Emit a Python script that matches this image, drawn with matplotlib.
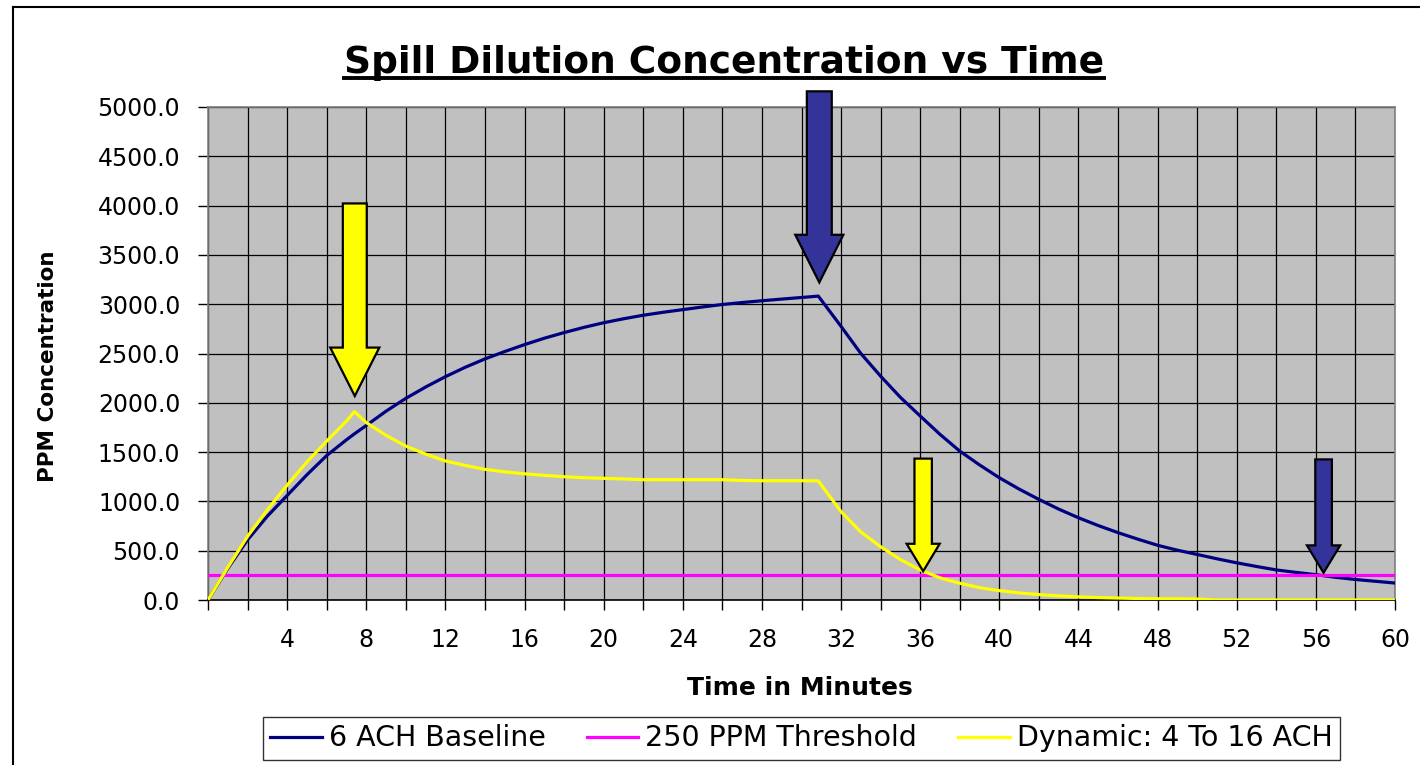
import matplotlib
matplotlib.use('Agg')
import matplotlib.pyplot as plt
from matplotlib.patches import FancyArrow
from matplotlib.lines import Line2D

plt.rcParams['font.family'] = ['DejaVu Sans']

# ---------------- data ----------------
time_min = [0, 1, 2, 3, 4, 5, 6, 7, 7.4, 8, 9, 10, 11, 12, 13, 14, 15, 16, 17, 18,
            19, 20, 21, 22, 23, 24, 25, 26, 27, 28, 29, 30, 30.85, 32, 33, 34, 35,
            36, 37, 38, 39, 40, 41, 42, 43, 44, 45, 46, 47, 48, 49, 50, 51, 52, 53,
            54, 55, 56, 57, 58, 59, 60]

baseline_6ach = [0, 320, 610, 850, 1060, 1270, 1465, 1625, 1685, 1770, 1915, 2045,
                 2160, 2265, 2360, 2445, 2520, 2590, 2655, 2712, 2765, 2812, 2852,
                 2888, 2918, 2945, 2972, 2997, 3017, 3035, 3052, 3068, 3082, 2775,
                 2500, 2270, 2055, 1866, 1680, 1510, 1370, 1240, 1125, 1020, 922,
                 834, 755, 683, 617, 555, 505, 462, 418, 377, 340, 305, 280, 257,
                 230, 208, 190, 172]

dynamic_4_16 = [0, 330, 645, 915, 1165, 1400, 1612, 1815, 1910, 1800, 1670, 1561,
                1480, 1410, 1365, 1325, 1300, 1280, 1264, 1250, 1240, 1234, 1228,
                1220, 1220, 1220, 1220, 1220, 1212, 1210, 1210, 1210, 1208, 895,
                690, 540, 410, 305, 225, 170, 125, 95, 72, 55, 42, 32, 25, 20, 15,
                12, 12, 10, 0, 0, 0, 0, 0, 0, 0, 0, 0, 0]

threshold_time = [0, 60]
threshold_ppm = [250, 250]

series_labels = ['6 ACH Baseline', '250 PPM Threshold', 'Dynamic: 4 To 16 ACH']

x_ticks = list(range(0, 61, 2))
x_tick_labels = ['', '', '4', '', '8', '', '12', '', '16', '', '20', '', '24', '',
                 '28', '', '32', '', '36', '', '40', '', '44', '', '48', '', '52',
                 '', '56', '', '60']
y_ticks = [0, 500, 1000, 1500, 2000, 2500, 3000, 3500, 4000, 4500, 5000]
y_tick_labels = ['0.0', '500.0', '1000.0', '1500.0', '2000.0', '2500.0', '3000.0',
                 '3500.0', '4000.0', '4500.0', '5000.0']

# arrow annotations: x position, top and tip (data units)
arrow_x = [7.42, 30.9, 36.15, 56.39]
arrow_top = [4022, 5159, 1434, 1426]
arrow_tip = [2069, 3221, 292, 276]

# ---------------- figure ----------------
W, H = 1420, 765
fig = plt.figure(figsize=(W / 100, H / 100), dpi=100)
fig.patch.set_facecolor('white')

ax_l, ax_r, ax_t, ax_b = 208, 1395, 107, 600
ax = fig.add_axes([ax_l / W, (H - ax_b) / H, (ax_r - ax_l) / W, (ax_b - ax_t) / H])
ax.set_facecolor('#C0C0C0')

ax.plot(time_min, baseline_6ach, color='#000080', lw=2.3, label=series_labels[0], zorder=3)
ax.plot(threshold_time, threshold_ppm, color='#FF00FF', lw=2.3, label=series_labels[1], zorder=3)
ax.plot(time_min, dynamic_4_16, color='#FFFF00', lw=2.3, label=series_labels[2], zorder=3)

ax.set_xlim(0, 60)
ax.set_ylim(0, 5000)
ax.set_xticks(x_ticks)
ax.set_xticklabels(x_tick_labels)
ax.set_yticks(y_ticks)
ax.set_yticklabels(y_tick_labels)
ax.grid(True, color='black', lw=0.9)
ax.set_axisbelow(True)

ax.tick_params(axis='both', direction='out', length=7, width=1, color='black',
               labelsize=17, labelcolor='black')
ax.tick_params(axis='y', pad=13)
ax.tick_params(axis='x', pad=13)

for side in ['left', 'top', 'right']:
    ax.spines[side].set_color('#808080')
    ax.spines[side].set_linewidth(1.2)
ax.spines['bottom'].set_color('black')
ax.spines['bottom'].set_linewidth(1.2)

ax.set_xlabel('Time in Minutes', fontsize=18, fontweight='bold', va='center')
ax.xaxis.set_label_coords((800 - ax_l) / (ax_r - ax_l), -(688 - ax_b) / (ax_b - ax_t))
ax.set_ylabel('PPM Concentration', fontsize=15.5, fontweight='bold', va='center')
ax.yaxis.set_label_coords(-(ax_l - 48) / (ax_r - ax_l), (ax_b - 366) / (ax_b - ax_t))

# arrows
arrow_width = [1.21, 1.26, 0.88, 0.84]
arrow_head_w = [2.48, 2.43, 1.67, 1.68]
arrow_head_l = [491, 483, 278, 278]
arrow_color = ['#FFFF00', '#333399', '#FFFF00', '#333399']
for x, top, tip, w, hw, hl, c in zip(arrow_x, arrow_top, arrow_tip, arrow_width,
                                     arrow_head_w, arrow_head_l, arrow_color):
    ax.add_patch(FancyArrow(x, top, 0, tip - top, width=w, head_width=hw,
                            head_length=hl, length_includes_head=True,
                            facecolor=c, edgecolor='black', lw=1.6,
                            clip_on=False, zorder=6))

# title with underline
title = fig.text(724 / W, 1 - 73 / H, 'Spill Dilution Concentration vs Time',
                 ha='center', va='baseline', fontsize=27, fontweight='bold')

# legend
leg = fig.legend(loc='center', bbox_to_anchor=(801.5 / W, 1 - 738.5 / H), ncol=3,
                 frameon=True, fancybox=False, edgecolor='black', fontsize=20.5,
                 handlelength=1.8, handletextpad=0.25, columnspacing=1.45,
                 borderpad=0.25, borderaxespad=0)
leg.get_frame().set_linewidth(1.0)

# figure border
fig.add_artist(Line2D([13 / W, 13 / W], [0, 1 - 7 / H], color='black', lw=1.5))
fig.add_artist(Line2D([13 / W, 1], [1 - 7 / H, 1 - 7 / H], color='black', lw=1.5))

fig.canvas.draw()
bb = title.get_window_extent()
uy = 1 - 78 / H
fig.add_artist(Line2D([bb.x0 / W, bb.x1 / W], [uy, uy], color='black', lw=2.8))

fig.savefig('out.png', dpi=100)
